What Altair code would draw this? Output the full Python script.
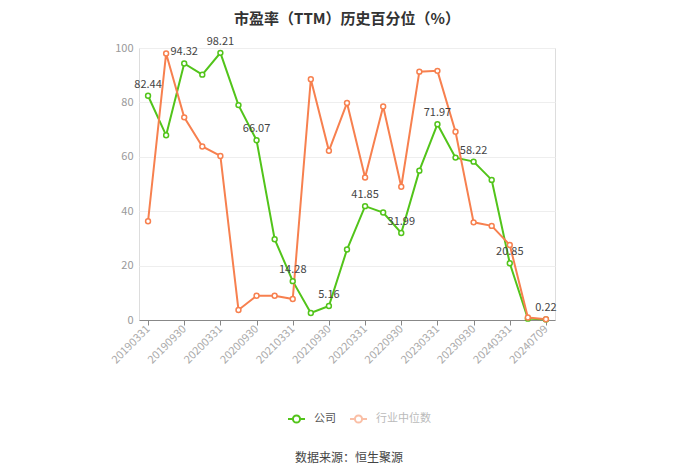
import altair as alt
import pandas as pd

dates = ["20190331", "20190630", "20190930", "20191231", "20200331", "20200630",
         "20200930", "20201231", "20210331", "20210630", "20210930", "20211231",
         "20220331", "20220630", "20220930", "20221231", "20230331", "20230630",
         "20230930", "20231231", "20240331", "20240630", "20240709"]
company = [82.44, 67.9, 94.32, 90.2, 98.21, 79.0, 66.07, 29.7, 14.28, 2.6, 5.16, 25.9,
           41.85, 39.5, 31.99, 54.9, 71.97, 59.7, 58.22, 51.5, 20.85, 0.5, 0.22]
industry = [36.3, 98.0, 74.5, 63.8, 60.3, 3.7, 8.9, 8.9, 7.7, 88.5, 62.2, 79.8,
            52.4, 78.5, 49.0, 91.3, 91.6, 69.2, 35.9, 34.6, 27.6, 0.9, 0.3]
labeled_dates = ["20190331", "20190930", "20200331", "20200930", "20210331", "20210930",
                 "20220331", "20220930", "20230331", "20230930", "20240331", "20240709"]
series_names = ["公司", "行业中位数"]
title_text = "市盈率（TTM）历史百分位（%）"
source_text = "数据来源：恒生聚源"

GREEN = "#52c41a"
ORANGE = "#f7804f"
FONT = "Noto Sans CJK SC"

rows = []
for d, v in zip(dates, company):
    rows.append({"date": d, "series": series_names[0], "value": v,
                 "label": f"{v:.2f}" if d in labeled_dates else ""})
for d, v in zip(dates, industry):
    rows.append({"date": d, "series": series_names[1], "value": v, "label": ""})
df = pd.DataFrame(rows)

legend_path = ("M-1,0L-0.42,0M0.42,0L1,0"
               "M-0.42,0A0.42,0.42,0,1,0,0.42,0A0.42,0.42,0,1,0,-0.42,0")

legend = alt.Legend(
    orient="none", legendX=148, legendY=361, direction="horizontal", title=None,
    symbolType=legend_path, symbolSize=289, symbolStrokeWidth=2,
    symbolFillColor="white",
    symbolOpacity={"expr": "datum.value === '公司' ? 1 : 0.5"},
    labelColor={"expr": "datum.value === '公司' ? '#555555' : '#bbbbbb'"},
    labelFontSize=11, labelFont=FONT, labelOffset=8, columnPadding=10, padding=0,
)

x_enc = alt.X("date:N", sort=dates, title=None,
              scale=alt.Scale(type="point", padding=0.5),
              axis=alt.Axis(values=labeled_dates, labelAngle=-45, labelAlign="right",
                            labelBaseline="middle", labelColor="#aaaaaa", labelFontSize=11,
                            labelPadding=2, tickSize=5, tickColor="#888888",
                            domainColor="#888888", grid=False, labelFont=FONT))
y_enc = alt.Y("value:Q", title=None,
              scale=alt.Scale(domain=[0, 100], nice=False),
              axis=alt.Axis(values=[0, 20, 40, 60, 80, 100], domain=False, ticks=False,
                            labelColor="#999999", labelFontSize=11, labelPadding=6,
                            gridColor="#eeeeee", labelFont=FONT))
color_enc = alt.Color("series:N", sort=series_names,
                      scale=alt.Scale(domain=series_names, range=[GREEN, ORANGE]),
                      legend=legend)

base = alt.Chart(df)
lines = base.mark_line(strokeWidth=2).encode(x=x_enc, y=y_enc, color=color_enc,
                                              order=alt.Order("series:N"))
points = base.mark_point(filled=False, fill="white", fillOpacity=1, opacity=1,
                         size=24, strokeWidth=1.5).encode(x=x_enc, y=y_enc, color=color_enc)
labels = base.transform_filter(alt.datum.label != "").mark_text(
    fontSize=11, color="#444444", baseline="bottom", dy=-6, font=FONT
).encode(x=x_enc, y=y_enc, text="label:N")

src = alt.Chart(pd.DataFrame({"t": [source_text]})).mark_text(
    fontSize=12, color="#444444", font=FONT, align="center", baseline="middle"
).encode(text="t:N", x=alt.value(210), y=alt.value(410))

ttl = alt.Chart(pd.DataFrame({"t": [title_text]})).mark_text(
    fontSize=15, fontWeight="bold", color="#333333", font=FONT, align="center",
    baseline="middle"
).encode(text="t:N", x=alt.value(208), y=alt.value(-29))

chart = alt.layer(lines, points, labels, src, ttl).properties(
    width=416, height=272,
    padding={"left": 131, "top": 40, "right": 136, "bottom": 144},
    autosize=alt.AutoSizeParams(type="none"),
).configure_view(strokeWidth=0).configure(font=FONT)

chart.save("out.html", embed_options={"renderer": "svg", "actions": False})
